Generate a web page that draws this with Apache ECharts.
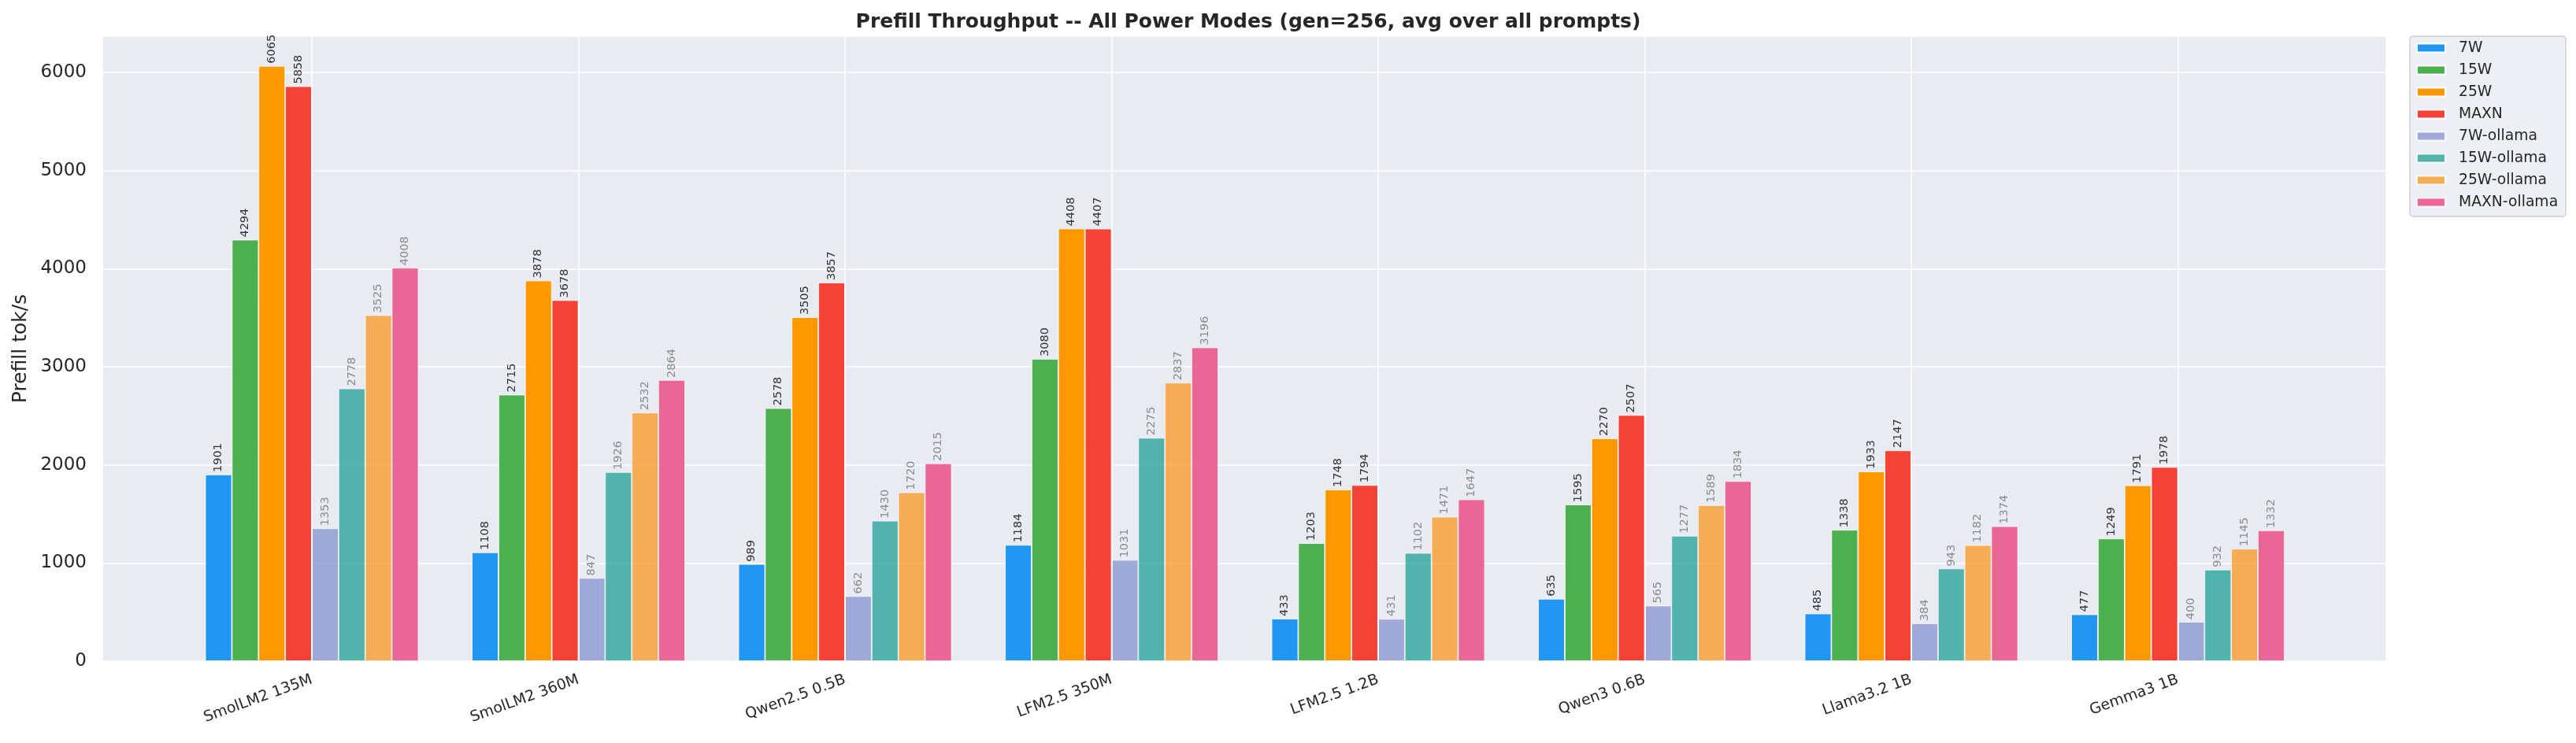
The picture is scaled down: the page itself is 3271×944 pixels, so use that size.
<!DOCTYPE html>
<html>
<head>
<meta charset="utf-8">
<script src="https://cdn.jsdelivr.net/npm/echarts@6/dist/echarts.min.js"></script>
<style>
  html, body { margin: 0; padding: 0; background: #ffffff; }
  #chart { width: 3271px; height: 944px; }
</style>
</head>
<body>
<div id="chart"></div>
<script>
// models on the x axis
var models = ['SmolLM2 135M', 'SmolLM2 360M', 'Qwen2.5 0.5B', 'LFM2.5 350M', 'LFM2.5 1.2B', 'Qwen3 0.6B', 'Llama3.2 1B', 'Gemma3 1B'];

// prefill tok/s per power mode
var w7          = [1901, 1108,  989, 1184,  433,  635,  485,  477];
var w15         = [4294, 2715, 2578, 3080, 1203, 1595, 1338, 1249];
var w25         = [6065, 3878, 3505, 4408, 1748, 2270, 1933, 1791];
var maxn        = [5858, 3678, 3857, 4407, 1794, 2507, 2147, 1978];
var w7Ollama    = [1353,  847,  662, 1031,  431,  565,  384,  400];
var w15Ollama   = [2778, 1926, 1430, 2275, 1102, 1277,  943,  932];
var w25Ollama   = [3525, 2532, 1720, 2837, 1471, 1589, 1182, 1145];
var maxnOllama  = [4008, 2864, 2015, 3196, 1647, 1834, 1374, 1332];

var yTicks = [0, 1000, 2000, 3000, 4000, 5000, 6000];

var seriesDefs = [
    {name: '7W',          data: w7,         color: '#2196F3', ollama: false},
    {name: '15W',         data: w15,        color: '#4CAF50', ollama: false},
    {name: '25W',         data: w25,        color: '#FF9800', ollama: false},
    {name: 'MAXN',        data: maxn,       color: '#F44336', ollama: false},
    {name: '7W-ollama',   data: w7Ollama,   color: '#929DD2', ollama: true},
    {name: '15W-ollama',  data: w15Ollama,  color: '#37A9A1', ollama: true},
    {name: '25W-ollama',  data: w25Ollama,  color: '#F7A13C', ollama: true},
    {name: 'MAXN-ollama', data: maxnOllama, color: '#E94F85', ollama: true}
];

var FONT = 'DejaVu Sans';
var TXT = '#262626';
var yMax = 6368;

// plot area (outer) and the bar area (inner, so groups sit like matplotlib's margins)
var plotLeft = 131, plotRight = 3029, plotTop = 46, plotBottom = 840;
var firstCenter = 396, catStep = 338.5;
var innerLeft = firstCenter - catStep / 2;
var innerRight = innerLeft + catStep * models.length;
var barW = catStep * 0.1;

var series = seriesDefs.map(function (s) {
    return {
        name: s.name,
        type: 'bar',
        xAxisIndex: 1,
        yAxisIndex: 1,
        z: 3,
        barWidth: barW,
        barGap: '0%',
        data: s.data,
        itemStyle: {
            color: s.color,
            opacity: s.ollama ? 0.85 : 1,
            borderColor: '#ffffff',
            borderWidth: 0.8
        },
        label: {
            show: true,
            position: 'top',
            rotate: 90,
            align: 'left',
            verticalAlign: 'middle',
            distance: 3,
            fontFamily: FONT,
            fontSize: 14.5,
            color: s.ollama ? '#7a7a7a' : '#333333'
        }
    };
});

// vertical grid lines at the group centres
series.push({
    name: 'vgrid',
    type: 'line',
    xAxisIndex: 1,
    yAxisIndex: 1,
    z: 1,
    data: [],
    silent: true,
    markLine: {
        silent: true,
        symbol: 'none',
        label: {show: false},
        lineStyle: {color: '#ffffff', width: 1.6, type: 'solid'},
        data: models.map(function (m) { return {xAxis: m}; })
    }
});

var option = {
    backgroundColor: '#ffffff',
    animation: false,
    textStyle: {fontFamily: FONT},
    title: {
        text: 'Prefill Throughput -- All Power Modes (gen=256, avg over all prompts)',
        left: (plotLeft + plotRight) / 2,
        textAlign: 'center',
        top: 11,
        textStyle: {fontFamily: FONT, fontWeight: 'bold', fontSize: 25, color: TXT}
    },
    legend: {
        data: seriesDefs.map(function (s) { return s.name; }),
        orient: 'vertical',
        left: 3060,
        top: 46,
        icon: 'rect',
        itemWidth: 36,
        itemHeight: 11,
        itemGap: 8,
        padding: [5, 10, 8, 8],
        backgroundColor: 'rgba(234,234,242,0.8)',
        borderColor: '#cccccc',
        borderWidth: 1.3,
        borderRadius: 4,
        textStyle: {fontFamily: FONT, fontSize: 18.75, color: TXT, lineHeight: 20, padding: [0, 0, 0, 12]}
    },
    grid: [
        {
            left: plotLeft, right: 3271 - plotRight, top: plotTop, bottom: 944 - plotBottom,
            show: true, backgroundColor: '#eaeaf2', borderWidth: 0
        },
        {
            left: innerLeft, right: 3271 - innerRight, top: plotTop, bottom: 944 - plotBottom
        }
    ],
    xAxis: [
        {
            type: 'value', gridIndex: 0, min: 0, max: 1,
            axisLine: {show: false}, axisTick: {show: false}, axisLabel: {show: false}, splitLine: {show: false}
        },
        {
            type: 'category', gridIndex: 1, data: models,
            axisLine: {show: false}, axisTick: {show: false}, splitLine: {show: false},
            axisLabel: {
                rotate: 20, margin: 23, interval: 0,
                fontFamily: FONT, fontSize: 19, color: TXT
            }
        }
    ],
    yAxis: [
        {
            type: 'value', gridIndex: 0, min: 0, max: yMax, interval: 1000,
            name: 'Prefill tok/s', nameLocation: 'middle', nameGap: 92,
            nameTextStyle: {fontFamily: FONT, fontSize: 25, color: TXT},
            axisLine: {show: false}, axisTick: {show: false},
            axisLabel: {
                margin: 21, fontFamily: FONT, fontSize: 23, color: TXT, showMaxLabel: false,
                formatter: function (v) { return yTicks.indexOf(v) >= 0 ? String(v) : ''; }
            },
            splitLine: {show: true, lineStyle: {color: '#ffffff', width: 1.6}}
        },
        {
            type: 'value', gridIndex: 1, min: 0, max: yMax,
            show: false, splitLine: {show: false}
        }
    ],
    series: series
};

var chart = echarts.init(document.getElementById('chart'));
chart.setOption(option);
</script>
</body>
</html>
